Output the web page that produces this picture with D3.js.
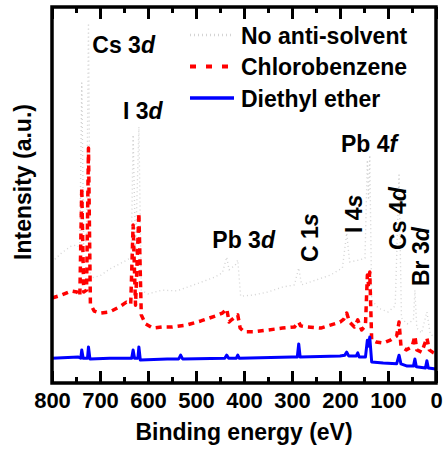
<!DOCTYPE html>
<html>
<head>
<meta charset="utf-8">
<script src="https://cdn.jsdelivr.net/npm/d3@7"></script>
<style>
  body { margin: 0; background: #fff; }
  svg text { font-family: "Liberation Sans", Arial, sans-serif; font-weight: bold; fill: #000; }
</style>
</head>
<body>
<svg id="chart" width="445" height="452"></svg>
<script>
// XPS survey spectra, intensity in arbitrary units (0-100)
const noAntiSolvent = [
  [800, 32.2], [780, 34.6], [760, 36.4], [748, 36.7], [742, 35.9], [738, 79.8], [734, 37.0],
  [728, 38.0], [724, 95.7], [720, 27.9], [700, 28.5], [680, 30.3], [660, 31.6], [640, 33.0],
  [635, 33.2], [631, 66.0], [626, 34.8], [619, 68.1], [614, 24.7], [600, 23.7], [570, 24.7],
  [540, 24.5], [500, 26.3], [460, 28.2], [445, 29.3], [436, 33.5], [431, 30.1], [418, 31.4],
  [413, 32.7], [407, 23.1], [380, 23.4], [350, 24.2], [320, 25.5], [295, 26.1], [286, 30.6],
  [280, 26.1], [250, 27.4], [220, 28.7], [195, 30.6], [186, 39.9], [180, 32.2], [160, 32.7],
  [148, 33.2], [143, 59.3], [140.5, 48.7], [138, 60.6], [134, 22.1], [120, 19.9], [100, 18.9],
  [85, 20.5], [77, 55.3], [72, 17.3], [60, 15.7], [47, 16.8], [44, 24.7], [40, 14.6],
  [30, 13.3], [19, 18.9], [12, 13.0], [0, 12.0]
];

const chlorobenzene = [
  [800, 22.6], [780, 23.4], [760, 24.5], [748, 24.2], [742, 23.1], [738, 51.9], [734, 24.2],
  [728, 24.7], [724, 62.5], [720, 21.0], [712, 19.1], [700, 18.6], [680, 18.9], [660, 20.2],
  [645, 21.5], [636, 21.0], [631, 42.0], [626, 20.7], [619, 45.2], [614, 18.1], [605, 15.7],
  [590, 14.6], [570, 14.9], [550, 14.9], [520, 15.4], [490, 16.5], [460, 17.8], [445, 18.6],
  [436, 19.7], [431, 16.2], [426, 16.8], [413, 18.1], [408, 14.6], [400, 13.6], [380, 13.6],
  [350, 14.1], [320, 14.6], [295, 14.9], [286, 16.2], [282, 15.2], [270, 14.9], [240, 14.6],
  [220, 15.4], [200, 16.2], [192, 17.0], [186, 18.6], [180, 16.2], [170, 14.9], [163, 16.8],
  [155, 14.1], [147, 15.2], [143, 28.7], [140.5, 26.1], [138, 29.5], [134, 11.4], [125, 10.9],
  [110, 10.6], [95, 11.4], [82, 12.5], [77, 16.2], [73, 9.8], [62, 8.8], [50, 9.6],
  [44, 12.5], [40, 8.8], [30, 8.2], [19, 12.0], [14, 8.8], [5, 8.0], [0, 7.7]
];

const diethylEther = [
  [800, 6.6], [745, 6.9], [740, 6.6], [738, 8.8], [735, 6.6], [726, 6.6], [724, 9.6],
  [721, 6.4], [680, 6.6], [634, 6.6], [631, 8.8], [628, 6.6], [621, 6.6], [619, 9.6],
  [616, 6.1], [560, 6.4], [536, 6.4], [532, 7.4], [528, 6.4], [440, 6.6], [436, 7.4],
  [432, 6.6], [416, 6.6], [413, 7.4], [410, 6.6], [300, 6.9], [289, 6.9], [286, 10.4],
  [283, 6.9], [200, 7.2], [190, 7.4], [186, 8.2], [182, 7.2], [166, 7.2], [163, 8.0],
  [160, 6.9], [147, 6.9], [143, 11.4], [140.5, 9.8], [138, 12.2], [134, 5.6], [110, 5.3],
  [82, 5.1], [77, 7.4], [73, 5.1], [60, 4.5], [47, 4.5], [44, 6.4], [41, 4.3],
  [22, 4.0], [19, 5.9], [16, 4.0], [0, 3.7]
];

const seriesNames = ["No anti-solvent", "Chlorobenzene", "Diethyl ether"];
const xMajorTicks = [800, 700, 600, 500, 400, 300, 200, 100, 0];
const xMinorTicks = [750, 650, 550, 450, 350, 250, 150, 50];

// peak labels: [main text, italic part, energy, intensity, rotated]
const peakLabels = [
  ["Cs 3", "d", 716, 87.8, false],
  ["I 3", "d", 652, 70.2, false],
  ["Pb 3", "d", 466, 35.9, false],
  ["Pb 4", "f", 198, 61.4, false],
  ["C 1", "s", 246, 32.2, true],
  ["I 4", "s", 155, 39.9, true],
  ["Cs 4", "d", 63, 35.4, true],
  ["Br 3", "d", 14.5, 25.8, true]
];

const svg = d3.select("#chart");
const plotLeft = 52, plotRight = 436, plotTop = 7, plotBottom = 383;

const x = d3.scaleLinear().domain([800, 0]).range([plotLeft, plotRight]);
const y = d3.scaleLinear().domain([0, 100]).range([plotBottom, plotTop]);

const line = d3.line().x(d => x(d[0])).y(d => y(d[1]));

const styles = [
  { color: "#d4d4d4", width: 1.4, dash: "1,3" },
  { color: "#ff0000", width: 3.5, dash: "6,5" },
  { color: "#0000ff", width: 3, dash: null }
];

[noAntiSolvent, chlorobenzene, diethylEther].forEach((data, i) => {
  svg.append("path")
    .datum(data)
    .attr("d", line)
    .attr("fill", "none")
    .attr("stroke", styles[i].color)
    .attr("stroke-width", styles[i].width)
    .attr("stroke-dasharray", styles[i].dash)
    .attr("stroke-linejoin", "round");
});

// axes with inward ticks
function styleAxis(g) {
  g.select(".domain").remove();
  g.selectAll(".tick line").attr("stroke", "#000").attr("stroke-width", 3);
}

svg.append("g")
  .attr("transform", `translate(0,${plotBottom})`)
  .call(d3.axisBottom(x).tickValues(xMajorTicks).tickSize(-12).tickPadding(9).tickFormat(d3.format("d")))
  .call(styleAxis)
  .call(g => g.selectAll("text").attr("font-size", 22).style("font-family", "'Liberation Sans', Arial, sans-serif").style("font-weight", "bold"));

svg.append("g")
  .attr("transform", `translate(0,${plotBottom})`)
  .call(d3.axisBottom(x).tickValues(xMinorTicks).tickSize(-6).tickFormat(""))
  .call(styleAxis);

svg.append("g")
  .attr("transform", `translate(0,${plotTop})`)
  .call(d3.axisTop(x).tickValues(xMajorTicks).tickSize(-12).tickFormat(""))
  .call(styleAxis);

svg.append("g")
  .attr("transform", `translate(0,${plotTop})`)
  .call(d3.axisTop(x).tickValues(xMinorTicks).tickSize(-6).tickFormat(""))
  .call(styleAxis);

svg.append("rect")
  .attr("x", plotLeft).attr("y", plotTop)
  .attr("width", plotRight - plotLeft).attr("height", plotBottom - plotTop)
  .attr("fill", "none").attr("stroke", "#000").attr("stroke-width", 3.5);

// axis titles
svg.append("text")
  .attr("x", (plotLeft + plotRight) / 2).attr("y", 440)
  .attr("text-anchor", "middle").attr("font-size", 23)
  .text("Binding energy (eV)");

svg.append("text")
  .attr("transform", `translate(31,${(plotTop + plotBottom) / 2 - 13}) rotate(-90)`)
  .attr("text-anchor", "middle").attr("font-size", 23)
  .text("Intensity (a.u.)");

// peak labels
peakLabels.forEach(([main, it, e, v, rot]) => {
  const t = svg.append("text").attr("font-size", 23);
  if (rot) t.attr("transform", `translate(${x(e)},${y(v)}) rotate(-90)`);
  else t.attr("x", x(e)).attr("y", y(v));
  t.append("tspan").text(main);
  t.append("tspan").attr("font-style", "italic").text(it);
});

// legend
const legend = svg.append("g").attr("transform", "translate(190,35)");
seriesNames.forEach((name, i) => {
  const row = legend.append("g").attr("transform", `translate(0,${i * 31.5})`);
  row.append("line")
    .attr("x1", 0).attr("x2", 44).attr("y1", 0).attr("y2", 0)
    .attr("stroke", styles[i].color)
    .attr("stroke-width", i === 1 ? 4 : styles[i].width + (i === 0 ? 1 : 0.5))
    .attr("stroke-dasharray", i === 1 ? "6,10" : styles[i].dash);
  row.append("text")
    .attr("x", 51).attr("y", 8.5)
    .attr("font-size", 23)
    .text(name);
});
</script>
</body>
</html>
